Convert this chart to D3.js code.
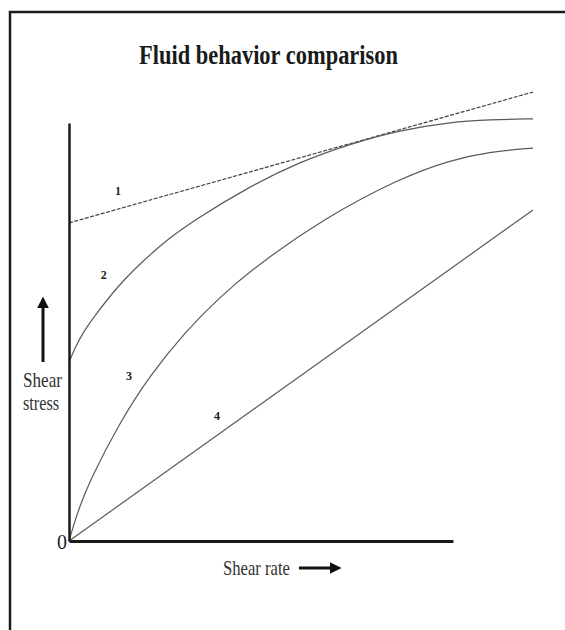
<!DOCTYPE html>
<html>
<head>
<meta charset="utf-8">
<script src="https://cdn.jsdelivr.net/npm/d3@7"></script>
<style>
  body { margin: 0; background: #fff; }
  svg { display: block; }
</style>
</head>
<body>
<svg id="chart"></svg>
<script>
// values (shear rate vs shear stress, arbitrary units)
const rate1 = [0, 12];
const stress1 = [7.61, 10.74];

const rate2 = [0, 0.155, 0.36, 0.62, 1.24, 1.91, 2.53, 3.21, 4.68, 5.97, 7.27, 8.56, 9.85, 10.89, 12];
const stress2 = [4.28, 4.62, 4.98, 5.33, 6.08, 6.7, 7.2, 7.66, 8.49, 9.07, 9.5, 9.83, 10.02, 10.08, 10.1];

const rate3 = [0, 0.13, 0.26, 0.54, 1.32, 2.1, 3.0, 3.9, 4.94, 6.62, 8.56, 9.85, 10.86, 12];
const stress3 = [0, 0.41, 0.78, 1.45, 2.85, 3.97, 5.0, 5.84, 6.65, 7.73, 8.68, 9.11, 9.31, 9.4];

const rate4 = [0, 12];
const stress4 = [0, 7.92];

const curveNames = ['1', '2', '3', '4'];
const labelRate = [1.27, 0.9, 1.55, 3.83];
const labelStress = [8.37, 6.36, 3.95, 2.99];

const axisRateMax = 9.93;
const axisStressMax = 10;
const zeroTick = [0];

const W = 565, H = 630;
const svg = d3.select('#chart').attr('width', W).attr('height', H);

const x = d3.scaleLinear().domain([0, 12]).range([69, 533]);
const y = d3.scaleLinear().domain([0, 10]).range([541, 123]);

// frame (top and left edges only)
svg.append('path')
  .attr('d', `M10,${H} V12 H${W}`)
  .attr('fill', 'none')
  .attr('stroke', '#1a1a1a')
  .attr('stroke-width', 2.5);

// title
svg.append('text')
  .attr('x', 139)
  .attr('y', 64)
  .attr('font-family', '"Liberation Serif", "Times New Roman", serif')
  .attr('font-weight', 'bold')
  .attr('font-size', 28)
  .attr('fill', '#1a1a1a')
  .attr('textLength', 259)
  .attr('lengthAdjust', 'spacingAndGlyphs')
  .text('Fluid behavior comparison');

const series = [
  { r: rate1, s: stress1 },
  { r: rate2, s: stress2 },
  { r: rate3, s: stress3 },
  { r: rate4, s: stress4 }
];

// basis spline keeps the hand-drawn curves smooth
const line = d3.line()
  .x(d => x(d[0]))
  .y(d => y(d[1]))
  .curve(d3.curveBasis);

series.forEach((ser, i) => {
  svg.append('path')
    .datum(d3.zip(ser.r, ser.s))
    .attr('fill', 'none')
    .attr('stroke', i === 0 ? '#444' : '#5a5a5a')
    .attr('stroke-width', 1.2)
    .attr('stroke-dasharray', i === 0 ? '4,1.5' : null)
    .attr('d', line);
});

// curve numbers
svg.selectAll('.curve-label')
  .data(curveNames)
  .enter().append('text')
  .attr('class', 'curve-label')
  .attr('x', (d, i) => x(labelRate[i]))
  .attr('y', (d, i) => y(labelStress[i]))
  .attr('text-anchor', 'middle')
  .attr('dominant-baseline', 'central')
  .attr('font-family', '"Liberation Serif", serif')
  .attr('font-weight', 'bold')
  .attr('font-size', 12)
  .attr('fill', '#222')
  .text(d => d);

// axes: plain thick lines, only the 0 at the origin
const yAxis = d3.axisLeft(d3.scaleLinear().domain([0, axisStressMax]).range([y(0), y(axisStressMax)]))
  .tickValues(zeroTick)
  .tickSize(0)
  .tickSizeOuter(0)
  .tickPadding(2)
  .tickFormat(d3.format('d'));

const gy = svg.append('g')
  .attr('transform', `translate(${x(0)},0)`)
  .call(yAxis);
gy.select('.domain').attr('stroke', '#1a1a1a').attr('stroke-width', 2.5);
gy.selectAll('.tick text')
  .attr('font-family', '"Liberation Serif", serif')
  .attr('font-size', 22)
  .attr('fill', '#222')
  .attr('textLength', 10)
  .attr('lengthAdjust', 'spacingAndGlyphs');

const xAxis = d3.axisBottom(d3.scaleLinear().domain([0, axisRateMax]).range([x(0), x(axisRateMax)]))
  .tickValues([])
  .tickSizeOuter(0);

const gx = svg.append('g')
  .attr('transform', `translate(0,${y(0)})`)
  .call(xAxis);
gx.select('.domain').attr('stroke', '#1a1a1a').attr('stroke-width', 3);

// arrowheads
const defs = svg.append('defs');
defs.append('marker')
  .attr('id', 'head')
  .attr('viewBox', '0 0 10 10')
  .attr('refX', 2)
  .attr('refY', 5)
  .attr('markerWidth', 4)
  .attr('markerHeight', 4)
  .attr('markerUnits', 'strokeWidth')
  .attr('orient', 'auto')
  .append('path')
  .attr('d', 'M0,0 L10,5 L0,10 Z')
  .attr('fill', '#111');

// y label with arrow
svg.append('line')
  .attr('x1', 43).attr('y1', 362)
  .attr('x2', 43).attr('y2', 306)
  .attr('stroke', '#111')
  .attr('stroke-width', 3)
  .attr('marker-end', 'url(#head)');

const yLab = svg.append('text')
  .attr('font-family', '"Liberation Serif", serif')
  .attr('font-size', 21)
  .attr('fill', '#333');
yLab.append('tspan').attr('x', 23).attr('y', 387).attr('textLength', 39)
  .attr('lengthAdjust', 'spacingAndGlyphs').text('Shear');
yLab.append('tspan').attr('x', 23).attr('y', 410).attr('textLength', 36)
  .attr('lengthAdjust', 'spacingAndGlyphs').text('stress');

// x label with arrow
svg.append('text')
  .attr('x', 223)
  .attr('y', 575)
  .attr('font-family', '"Liberation Serif", serif')
  .attr('font-size', 21)
  .attr('fill', '#333')
  .attr('textLength', 67)
  .attr('lengthAdjust', 'spacingAndGlyphs')
  .text('Shear rate');

svg.append('line')
  .attr('x1', 299).attr('y1', 568)
  .attr('x2', 332).attr('y2', 568)
  .attr('stroke', '#111')
  .attr('stroke-width', 3)
  .attr('marker-end', 'url(#head)');
</script>
</body>
</html>
